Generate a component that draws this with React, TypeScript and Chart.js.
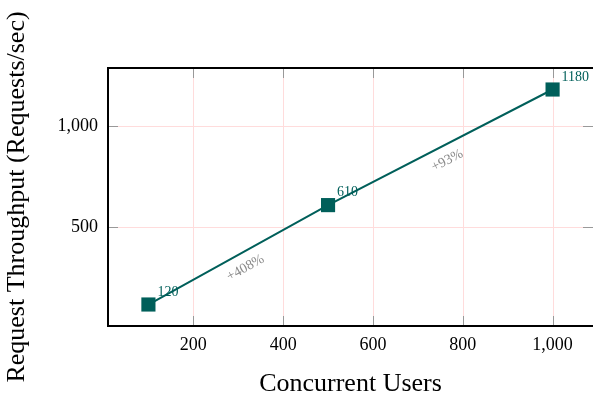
import React, { useEffect, useRef } from "react";
import { Chart, registerables } from "chart.js";

Chart.register(...registerables);

const usersX = [100, 500, 1000];
const throughputY = [120, 610, 1180];
const pointLabels = ["120", "610", "1180"];
const growthLabels = ["+408%", "+93%"];
const xTickValues = [200, 400, 600, 800, 1000];
const yTickValues = [500, 1000];
const xTitle = "Concurrent Users";
const yTitle = "Request Throughput (Requests/sec)";

const SERIF = '"Liberation Serif", "Times New Roman", serif';
const TEAL = "#005f5a";

const decorPlugin = {
  id: "decor",
  beforeDatasetsDraw(chart: any) {
    const { ctx, chartArea: a, scales } = chart;
    const xs = scales.x;
    const ys = scales.y;
    ctx.save();
    // grid
    ctx.strokeStyle = "#ffdcdc";
    ctx.lineWidth = 1;
    xTickValues.forEach((v) => {
      const px = Math.round(xs.getPixelForValue(v)) + 0.5;
      ctx.beginPath();
      ctx.moveTo(px, a.top);
      ctx.lineTo(px, a.bottom);
      ctx.stroke();
    });
    yTickValues.forEach((v) => {
      const py = Math.round(ys.getPixelForValue(v)) + 0.5;
      ctx.beginPath();
      ctx.moveTo(a.left, py);
      ctx.lineTo(a.right, py);
      ctx.stroke();
    });
    // tick marks
    ctx.strokeStyle = "#999999";
    const tl = 10;
    xTickValues.forEach((v) => {
      const px = Math.round(xs.getPixelForValue(v)) + 0.5;
      ctx.beginPath();
      ctx.moveTo(px, a.top);
      ctx.lineTo(px, a.top + tl);
      ctx.moveTo(px, a.bottom);
      ctx.lineTo(px, a.bottom - tl);
      ctx.stroke();
    });
    yTickValues.forEach((v) => {
      const py = Math.round(ys.getPixelForValue(v)) + 0.5;
      ctx.beginPath();
      ctx.moveTo(a.left, py);
      ctx.lineTo(a.left + tl, py);
      ctx.moveTo(a.right, py);
      ctx.lineTo(a.right - tl, py);
      ctx.stroke();
    });
    // frame (right side lies just beyond the canvas edge)
    ctx.strokeStyle = "#000000";
    ctx.lineWidth = 2;
    ctx.beginPath();
    ctx.moveTo(a.right + 2, a.top);
    ctx.lineTo(a.left, a.top);
    ctx.lineTo(a.left, a.bottom);
    ctx.lineTo(a.right + 2, a.bottom);
    ctx.stroke();
    ctx.restore();
  },
  afterDatasetsDraw(chart: any) {
    const { ctx, scales, chartArea: a } = chart;
    const xs = scales.x;
    const ys = scales.y;
    const pts = usersX.map((x, i) => ({
      x: xs.getPixelForValue(x),
      y: ys.getPixelForValue(throughputY[i]),
    }));
    ctx.save();
    // point labels
    ctx.fillStyle = TEAL;
    ctx.font = `14px ${SERIF}`;
    ctx.textAlign = "left";
    ctx.textBaseline = "alphabetic";
    pts.forEach((p, i) => {
      ctx.fillText(pointLabels[i], p.x + 9, p.y - 9);
    });
    // growth labels
    ctx.fillStyle = "#8a8a8a";
    ctx.font = `14px ${SERIF}`;
    ctx.textAlign = "center";
    ctx.textBaseline = "middle";
    for (let i = 0; i < growthLabels.length; i++) {
      const p0 = pts[i];
      const p1 = pts[i + 1];
      const mx = (p0.x + p1.x) / 2;
      const my = (p0.y + p1.y) / 2;
      const ang = Math.atan2(p1.y - p0.y, p1.x - p0.x);
      ctx.save();
      ctx.translate(mx, my);
      ctx.rotate(ang);
      ctx.fillText(growthLabels[i], 0, 15);
      ctx.restore();
    }
    // axis titles
    ctx.fillStyle = "#000000";
    ctx.font = `26px ${SERIF}`;
    ctx.textAlign = "center";
    ctx.textBaseline = "alphabetic";
    ctx.fillText(xTitle, (a.left + a.right) / 2, 391);
    ctx.save();
    ctx.translate(24, (a.top + a.bottom) / 2);
    ctx.rotate(-Math.PI / 2);
    ctx.fillText(yTitle, 0, 0);
    ctx.restore();
    ctx.restore();
  },
};

export default function App() {
  const ref = useRef<HTMLCanvasElement | null>(null);
  useEffect(() => {
    document.body.style.margin = "0";
    if (!ref.current) return;
    const chart = new Chart(ref.current, {
      type: "line",
      data: {
        datasets: [
          {
            data: usersX.map((x, i) => ({ x, y: throughputY[i] })),
            borderColor: TEAL,
            backgroundColor: TEAL,
            borderWidth: 2,
            pointStyle: "rect",
            pointRadius: 10,
            pointBorderWidth: 0,
            pointBackgroundColor: TEAL,
            tension: 0,
          },
        ],
      },
      options: {
        animation: false,
        responsive: false,
        devicePixelRatio: 1,
        layout: { autoPadding: false, padding: { top: 68, right: 0, left: 0, bottom: 0 } },
        plugins: { legend: { display: false }, tooltip: { enabled: false } },
        scales: {
          x: {
            type: "linear",
            min: 10,
            max: 1090,
            grid: { display: false, drawTicks: false },
            border: { display: false },
            afterBuildTicks: (s: any) => {
              s.ticks = xTickValues.map((v) => ({ value: v }));
            },
            afterFit: (s: any) => {
              s.height = 67;
              s.paddingLeft = 0;
              s.paddingRight = 0;
            },
            ticks: {
              color: "#000",
              padding: 8,
              maxRotation: 0,
              font: { family: SERIF, size: 18 },
              callback: (v: any) => Number(v).toLocaleString("en-US"),
            },
          },
          y: {
            type: "linear",
            min: 14,
            max: 1286,
            grid: { display: false, drawTicks: false },
            border: { display: false },
            afterBuildTicks: (s: any) => {
              s.ticks = yTickValues.map((v) => ({ value: v }));
            },
            afterFit: (s: any) => {
              s.width = 108;
              s.paddingTop = 0;
              s.paddingBottom = 0;
            },
            ticks: {
              color: "#000",
              padding: 10,
              font: { family: SERIF, size: 18 },
              callback: (v: any) => Number(v).toLocaleString("en-US"),
            },
          },
        },
      },
      plugins: [decorPlugin],
    });
    return () => chart.destroy();
  }, []);
  return (
    <div style={{ width: 593, height: 393 }}>
      <canvas ref={ref} width={593} height={393} />
    </div>
  );
}
